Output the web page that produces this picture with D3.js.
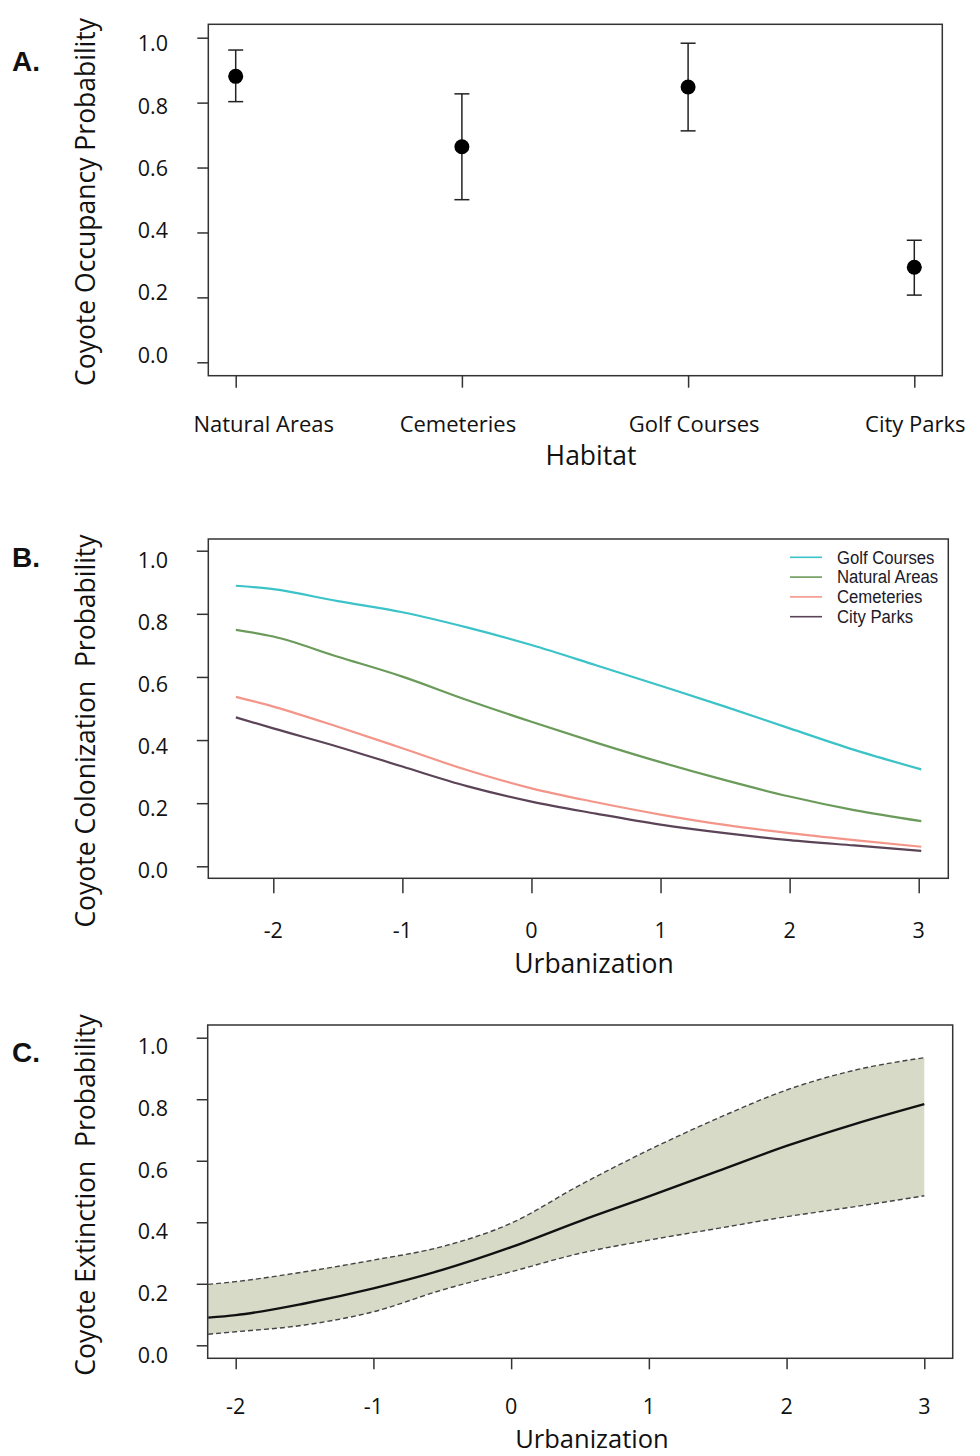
<!DOCTYPE html>
<html>
<head>
<meta charset="utf-8">
<script src="https://cdn.jsdelivr.net/npm/d3@7"></script>
<style>
  body { margin: 0; background: #fff; }
  svg { display: block; }
  text { fill: #111; }
</style>
</head>
<body>
<svg id="chart" width="980" height="1456"></svg>
<script>
// ---------------- DATA ----------------
// Panel A: occupancy by habitat
const habitats = ["Natural Areas", "Cemeteries", "Golf Courses", "City Parks"];
const occEstimate = [0.881, 0.664, 0.848, 0.293];
const occLower    = [0.803, 0.501, 0.713, 0.207];
const occUpper    = [0.962, 0.827, 0.983, 0.376];

// Panel B: colonization vs urbanization
const urbB = [-2.29, -2, -1.5, -1, -0.5, 0, 0.5, 1, 1.5, 2, 2.5, 3.02];
const colGolf    = [0.889, 0.878, 0.840, 0.805, 0.757, 0.701, 0.637, 0.572, 0.506, 0.437, 0.369, 0.307];
const colNatural = [0.749, 0.728, 0.664, 0.601, 0.527, 0.458, 0.392, 0.330, 0.273, 0.221, 0.178, 0.143];
const colCemetery= [0.537, 0.506, 0.442, 0.374, 0.305, 0.247, 0.203, 0.164, 0.131, 0.105, 0.083, 0.062];
const colCity    = [0.472, 0.437, 0.379, 0.316, 0.254, 0.205, 0.167, 0.132, 0.105, 0.083, 0.066, 0.049];
const legendLabels = ["Golf Courses", "Natural Areas", "Cemeteries", "City Parks"];

// Panel C: extinction vs urbanization
const urbC = [-2.2, -2, -1.5, -1, -0.5, 0, 0.5, 1, 1.5, 2, 2.5, 3.0];
const extMean  = [0.090, 0.098, 0.136, 0.185, 0.245, 0.319, 0.404, 0.484, 0.566, 0.648, 0.720, 0.784];
const extUpper = [0.198, 0.207, 0.239, 0.277, 0.321, 0.397, 0.521, 0.635, 0.738, 0.830, 0.895, 0.935];
const extLower = [0.036, 0.044, 0.066, 0.109, 0.180, 0.239, 0.299, 0.342, 0.380, 0.418, 0.451, 0.486];

// Tick labels
const yTicks = [0, 0.2, 0.4, 0.6, 0.8, 1.0];
const urbTicks = [-2, -1, 0, 1, 2, 3];

// ---------------- STYLE / LAYOUT ----------------
const FONT = "'Open Sans', sans-serif";
const seriesColors = ["#3cc3c8", "#6b9b5a", "#f4958a", "#5b4457"];
const svg = d3.select("#chart");

function box(b) {
  svg.append("rect").attr("x", b.x0).attr("y", b.y0)
    .attr("width", b.x1 - b.x0).attr("height", b.y1 - b.y0)
    .attr("fill", "none").attr("stroke", "#333").attr("stroke-width", 1.5);
}
function yAxis(y, b, labelScale, tickLen) {
  const g = svg.append("g").attr("transform", `translate(${b.x0},0)`)
    .call(d3.axisLeft(y).tickValues(yTicks).tickSize(tickLen).tickFormat(""));
  g.select(".domain").remove();
  g.selectAll(".tick line").attr("stroke", "#333").attr("stroke-width", 1.5);
  svg.append("g").selectAll("text").data(yTicks).join("text")
    .attr("x", 168).attr("y", d => labelScale(d))
    .attr("text-anchor", "end").attr("dominant-baseline", "central")
    .style("font-family", FONT).style("font-size", "21.5px")
    .text(d => d3.format(".1f")(d));
}
function xAxis(x, b, ticks, tickLen, fmt, labelY, nudge, size) {
  const g = svg.append("g").attr("transform", `translate(0,${b.y1})`)
    .call(d3.axisBottom(x).tickValues(ticks).tickSize(tickLen).tickFormat(""));
  g.select(".domain").remove();
  g.selectAll(".tick line").attr("stroke", "#333").attr("stroke-width", 1.5);
  svg.append("g").selectAll("text").data(ticks).join("text")
    .attr("x", (d, i) => x(d) + (nudge ? nudge[i] : 0)).attr("y", labelY)
    .attr("text-anchor", "middle")
    .style("font-family", FONT).style("font-size", size)
    .text((d, i) => fmt(d, i));
}
function title(txt, x, y, rotate, size) {
  const t = svg.append("text").style("font-family", FONT).style("font-size", size || "26.5px")
    .attr("text-anchor", "middle").style("white-space", "pre").text(txt);
  if (rotate) t.attr("transform", `translate(${x},${y}) rotate(-90)`);
  else t.attr("x", x).attr("y", y);
}
function panelLabel(txt, y) {
  svg.append("text").attr("x", 12).attr("y", y)
    .style("font-family", "'Liberation Sans', Arial, sans-serif")
    .style("font-weight", "bold").style("font-size", "28px").text(txt);
}

// ---------------- PANEL A ----------------
{
  const b = {x0: 208.3, x1: 942.3, y0: 24.3, y1: 375.7};
  const x = d3.scaleLinear().domain([1, 4]).range([235.7, 914.3]);
  const y = d3.scaleLinear().domain([0, 1]).range([362.3, 37.7]);
  const yLab = d3.scaleLinear().domain([0, 1]).range([354, 42.8]);
  box(b);
  yAxis(y, b, yLab, 11);
  xAxis(x, b, [1, 2, 3, 4], 12, (d, i) => habitats[i], 432, [28, -4, 6, 1], "22px");
  const idx = d3.range(habitats.length);
  const g = svg.append("g").attr("stroke", "#222").attr("stroke-width", 1.5);
  g.selectAll(".v").data(idx).join("line")
    .attr("x1", i => x(i + 1)).attr("x2", i => x(i + 1))
    .attr("y1", i => y(occLower[i])).attr("y2", i => y(occUpper[i]));
  g.selectAll(".cu").data(idx).join("line")
    .attr("x1", i => x(i + 1) - 7.5).attr("x2", i => x(i + 1) + 7.5)
    .attr("y1", i => y(occUpper[i])).attr("y2", i => y(occUpper[i]));
  g.selectAll(".cl").data(idx).join("line")
    .attr("x1", i => x(i + 1) - 7.5).attr("x2", i => x(i + 1) + 7.5)
    .attr("y1", i => y(occLower[i])).attr("y2", i => y(occLower[i]));
  svg.append("g").selectAll("circle").data(idx).join("circle")
    .attr("cx", i => x(i + 1)).attr("cy", i => y(occEstimate[i])).attr("r", 7.5)
    .attr("fill", "#000");
  title("Habitat", 591, 465, false);
  title("Coyote Occupancy Probability", 95, 202, true);
  panelLabel("A.", 71);
}

// ---------------- PANEL B ----------------
{
  const b = {x0: 208.3, x1: 948.3, y0: 539, y1: 878.3};
  const x = d3.scaleLinear().domain([-2, 3]).range([273.3, 918.7]);
  const y = d3.scaleLinear().domain([0, 1]).range([866.3, 550.7]);
  const yLab = d3.scaleLinear().domain([0, 1]).range([869, 559]);
  box(b);
  yAxis(y, b, yLab, 11.5);
  xAxis(x, b, urbTicks, 15, d => String(d), 938, null, "21.5px");
  const series = [colGolf, colNatural, colCemetery, colCity];
  const line = d3.line().x((d, i) => x(urbB[i])).y(d => y(d)).curve(d3.curveMonotoneX);
  svg.append("g").selectAll("path").data(series.slice().reverse()).join("path")
    .attr("d", line).attr("fill", "none")
    .attr("stroke", (d, i) => seriesColors[3 - i]).attr("stroke-width", 2.2);
  // legend
  const lg = svg.append("g");
  const rowY = d3.scaleLinear().domain([0, 3]).range([557.3, 616.7]);
  lg.selectAll("line").data(legendLabels).join("line")
    .attr("x1", 790).attr("x2", 822)
    .attr("y1", (d, i) => rowY(i)).attr("y2", (d, i) => rowY(i))
    .attr("stroke", (d, i) => seriesColors[i]).attr("stroke-width", 1.6);
  lg.selectAll("text").data(legendLabels).join("text")
    .attr("transform", (d, i) => `translate(837,${rowY(i)}) scale(0.88,1)`)
    .attr("dominant-baseline", "central")
    .style("font-family", "'Liberation Sans', Arial, sans-serif")
    .style("font-size", "19px").style("fill", "#1a1a2a").text(d => d);
  title("Urbanization", 594, 973, false);
  title("Coyote Colonization  Probability", 95, 731, true);
  panelLabel("B.", 567);
}

// ---------------- PANEL C ----------------
{
  const b = {x0: 207.7, x1: 952.7, y0: 1025, y1: 1358.3};
  const x = d3.scaleLinear().domain([-2, 3]).range([235.7, 924.3]);
  const y = d3.scaleLinear().domain([0, 1]).range([1345.3, 1037.7]);
  const yLab = d3.scaleLinear().domain([0, 1]).range([1354, 1045.8]);
  svg.append("clipPath").attr("id", "clipC").append("rect")
    .attr("x", b.x0).attr("y", b.y0).attr("width", b.x1 - b.x0).attr("height", b.y1 - b.y0);
  const idx = d3.range(urbC.length);
  const area = d3.area().x(i => x(urbC[i])).y0(i => y(extLower[i])).y1(i => y(extUpper[i]))
    .curve(d3.curveMonotoneX);
  const gc = svg.append("g").attr("clip-path", "url(#clipC)");
  gc.append("path").datum(idx).attr("d", area).attr("fill", "#d8dac8");
  const mk = arr => d3.line().x(i => x(urbC[i])).y(i => y(arr[i])).curve(d3.curveMonotoneX);
  gc.append("path").datum(idx).attr("d", mk(extUpper)).attr("fill", "none")
    .attr("stroke", "#444").attr("stroke-width", 1.4).attr("stroke-dasharray", "5,3");
  gc.append("path").datum(idx).attr("d", mk(extLower)).attr("fill", "none")
    .attr("stroke", "#444").attr("stroke-width", 1.4).attr("stroke-dasharray", "5,3");
  gc.append("path").datum(idx).attr("d", mk(extMean)).attr("fill", "none")
    .attr("stroke", "#111").attr("stroke-width", 2.4);
  box(b);
  yAxis(y, b, yLab, 11);
  xAxis(x, b, urbTicks, 11, d => String(d), 1414, null, "21.5px");
  title("Urbanization", 592, 1448, false, "25.5px");
  title("Coyote Extinction  Probability", 95, 1195, true);
  panelLabel("C.", 1062);
}
</script>
</body>
</html>
